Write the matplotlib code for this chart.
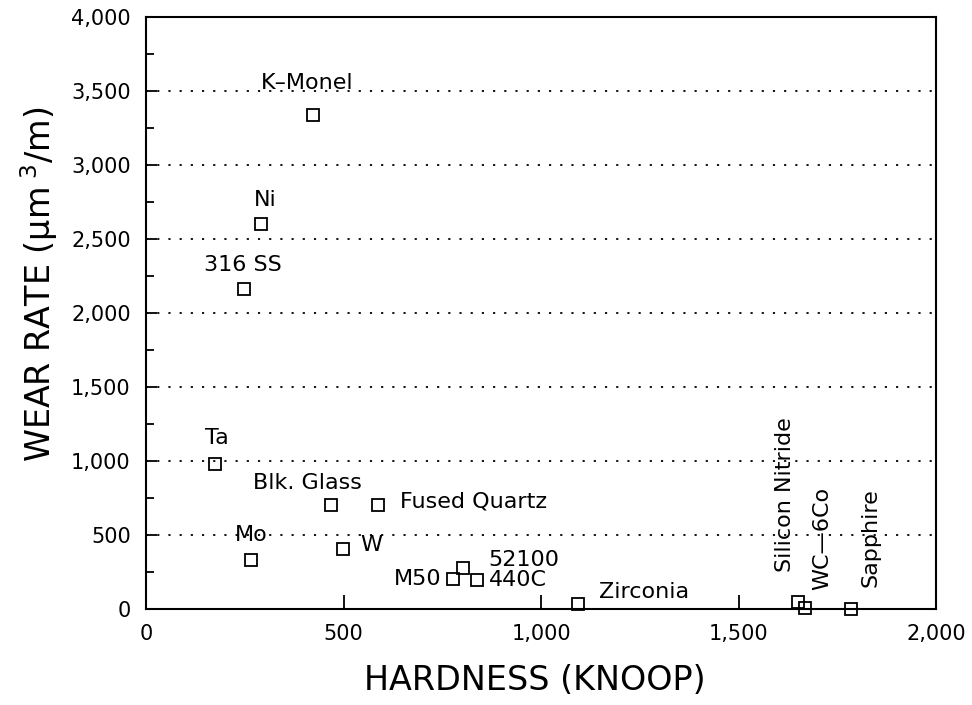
import matplotlib
matplotlib.use("Agg")
import matplotlib.pyplot as plt
from matplotlib.ticker import MultipleLocator, FuncFormatter

# ---- data ----
materials = ["K\u2013Monel", "Ni", "316 SS", "Ta", "Blk. Glass", "Fused Quartz", "Mo", "W",
             "M50", "52100", "440C", "Zirconia", "Silicon Nitride", "WC\u20146Co", "Sapphire"]
hardness = [424, 291, 248, 175, 468, 587, 266, 499, 777, 802, 838, 1093, 1651, 1668, 1785]
wear_rate = [3338, 2601, 2162, 980, 703, 703, 331, 405, 203, 277, 196, 34, 47, 7, 0]

x_ticks = [0, 500, 1000, 1500, 2000]
y_ticks = [0, 500, 1000, 1500, 2000, 2500, 3000, 3500, 4000]

# label placement (offset pixels, alignment, rotation)
label_style = {
    "K\u2013Monel": ((-6, 32), "center", "center", 0),
    "Ni": ((4, 24), "center", "center", 0),
    "316 SS": ((-1, 24), "center", "center", 0),
    "Ta": ((2, 26), "center", "center", 0),
    "Blk. Glass": ((-23, 22), "center", "center", 0),
    "Fused Quartz": ((22, 3), "left", "center", 0),
    "Mo": ((0, 25), "center", "center", 0),
    "W": ((17, 4), "left", "center", 0),
    "M50": ((-11, 0), "right", "center", 0),
    "52100": ((26, 8), "left", "center", 0),
    "440C": ((12, 0), "left", "center", 0),
    "Zirconia": ((21, 12), "left", "center", 0),
    "Silicon Nitride": ((-13, 30), "center", "bottom", 90),
    "WC\u20146Co": ((17, 18), "center", "bottom", 90),
    "Sapphire": ((19, 22), "center", "bottom", 90),
}

plt.rcParams['font.family'] = ['DejaVu Sans']
plt.rcParams['mathtext.default'] = 'regular'

fig = plt.figure(figsize=(9.72, 7.05), dpi=100)
fig.patch.set_facecolor('white')
ax = fig.add_axes([146/972, 1-609/705, 790/972, 592/705])

ax.plot(hardness, wear_rate, linestyle='none', marker='s', markersize=8.5,
        markerfacecolor='none', markeredgecolor='black', markeredgewidth=1.3, clip_on=False, zorder=3)

for name, xv, yv in zip(materials, hardness, wear_rate):
    (dx, dy), ha, va, rot = label_style[name]
    ax.annotate(name, (xv, yv), xytext=(dx, dy), textcoords='offset pixels',
                ha=ha, va=va, rotation=rot, fontsize=16, color='black', zorder=4)

ax.set_xlim(0, 2000)
ax.set_ylim(0, 4000)
ax.set_xticks(x_ticks)
ax.set_yticks(y_ticks)
ax.yaxis.set_minor_locator(MultipleLocator(250))
fmt = FuncFormatter(lambda v, p: f"{int(v):,}")
ax.xaxis.set_major_formatter(fmt)
ax.yaxis.set_major_formatter(fmt)
ax.tick_params(axis='both', which='major', direction='in', length=8, width=1.3,
               labelsize=15, pad=11)
ax.tick_params(axis='y', which='minor', direction='in', length=6, width=1.3)
ax.tick_params(axis='x', which='major', length=10)

for gy in y_ticks[1:-1]:
    ax.axhline(gy, color='black', linestyle=(0, (1.2, 5)), linewidth=1.3, zorder=1)

for s in ax.spines.values():
    s.set_linewidth(1.5)

ax.set_xlabel("HARDNESS (KNOOP)", fontsize=24)
ax.xaxis.set_label_coords((535-146)/790, -(664-609)/592)
ax.set_ylabel(r"WEAR RATE ($\mu$m$^{\ 3}$/m)", fontsize=24)
ax.yaxis.set_label_coords((60-146)/790, (609-284)/592)

fig.savefig("out.png", dpi=100, facecolor='white')
